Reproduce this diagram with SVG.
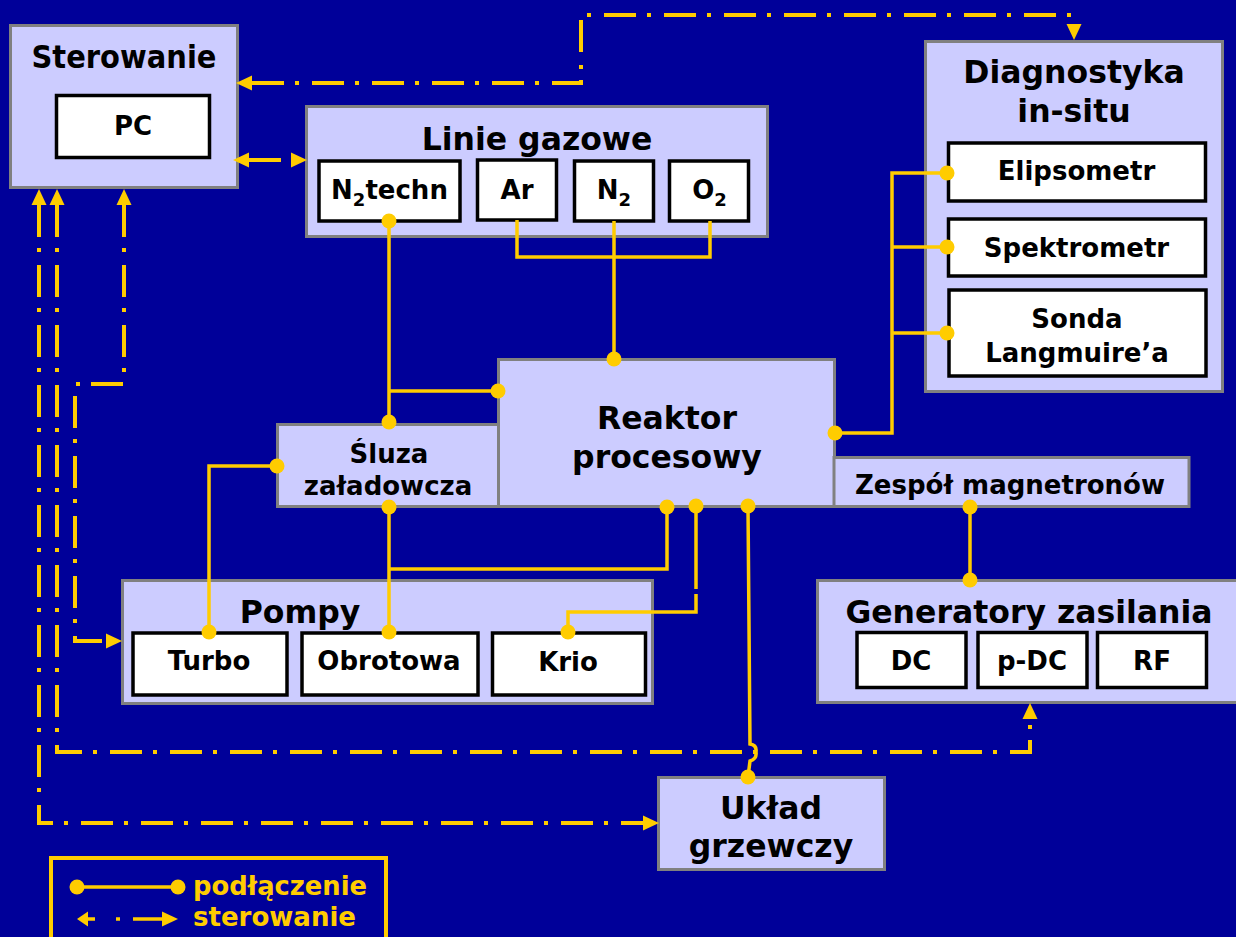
<svg xmlns="http://www.w3.org/2000/svg" width="1236" height="937" viewBox="0 0 1236 937">
<defs>
<marker id="ah" viewBox="0 -8 16 16" refX="0" refY="0" markerWidth="16" markerHeight="16" markerUnits="userSpaceOnUse" orient="auto-start-reverse"><path d="M0,-7.5 L16,0 L0,7.5 z" fill="#ffcc00"/></marker>
</defs>
<style>
.bg{fill:#000099}
.box{fill:#ccccff;stroke:#808080;stroke-width:3}
.in{fill:#ffffff;stroke:#000000;stroke-width:3.5}
.t{font-family:"DejaVu Sans","Liberation Sans",sans-serif;font-weight:bold;fill:#000;text-anchor:middle}
.tl{font-size:31.5px}
.ts{font-size:26px}
.sub{font-size:18px}
.con{fill:none;stroke:#ffcc00;stroke-width:3.5}
.ctl{fill:none;stroke:#ffcc00;stroke-width:4;stroke-dasharray:32 11 4 13;marker-start:url(#ah);marker-end:url(#ah)}
.dot{fill:#ffcc00}
.leg{font-family:"DejaVu Sans","Liberation Sans",sans-serif;font-weight:bold;font-size:26px;fill:#ffcc00}
</style>
<rect class="bg" x="0" y="0" width="1236" height="937"/>

<g id="sterowanie">
<rect class="box" x="10.5" y="25.5" width="227" height="162"/>
<text class="t tl" x="124" y="68" textLength="185" lengthAdjust="spacingAndGlyphs">Sterowanie</text>
<g id="pc"><rect class="in" x="56.5" y="95.5" width="153" height="62"/>
<text class="t ts" x="133" y="135">PC</text></g>
</g>

<g id="linie-gazowe">
<rect class="box" x="306.5" y="106.5" width="461" height="130"/>
<text class="t tl" x="537" y="150">Linie gazowe</text>
<g id="n2techn"><rect class="in" x="319" y="161" width="141" height="60"/>
<text class="t ts" x="389.5" y="199">N<tspan class="sub" dy="7">2</tspan><tspan dy="-7">techn</tspan></text></g>
<g id="ar"><rect class="in" x="477.5" y="160" width="79" height="60"/>
<text class="t ts" x="517" y="199">Ar</text></g>
<g id="n2"><rect class="in" x="574.5" y="161" width="79" height="60"/>
<text class="t ts" x="614" y="199">N<tspan class="sub" dy="7">2</tspan></text></g>
<g id="o2"><rect class="in" x="669.5" y="161" width="79" height="60"/>
<text class="t ts" x="709.5" y="199">O<tspan class="sub" dy="7">2</tspan></text></g>
</g>

<g id="diagnostyka">
<rect class="box" x="925.5" y="41.5" width="297" height="350"/>
<text class="t tl" x="1074" y="83">Diagnostyka</text>
<text class="t tl" x="1074" y="122">in-situ</text>
<g id="elipsometr"><rect class="in" x="948.5" y="143" width="257" height="58"/>
<text class="t ts" x="1076.5" y="180">Elipsometr</text></g>
<g id="spektrometr"><rect class="in" x="948.5" y="219" width="257" height="57"/>
<text class="t ts" x="1076.5" y="257">Spektrometr</text></g>
<g id="sonda"><rect class="in" x="949" y="290" width="257" height="86"/>
<text class="t ts" x="1077" y="328">Sonda</text>
<text class="t ts" x="1077" y="362">Langmuire’a</text></g>
</g>

<g id="sluza">
<rect class="box" x="277.5" y="424.5" width="221" height="82"/>
<text class="t ts" x="389" y="463">Śluza</text>
<text class="t ts" x="388" y="495">załadowcza</text>
</g>

<g id="reaktor">
<rect class="box" x="498.5" y="359.5" width="336" height="147"/>
<text class="t tl" x="667" y="429">Reaktor</text>
<text class="t tl" x="667" y="468">procesowy</text>
</g>

<g id="zespol">
<rect class="box" x="834" y="457.5" width="355" height="49"/>
<text class="t ts" x="1010" y="494">Zespół magnetronów</text>
</g>

<g id="pompy">
<rect class="box" x="122.5" y="580.5" width="530" height="123"/>
<text class="t tl" x="300" y="623">Pompy</text>
<g id="turbo"><rect class="in" x="133" y="633" width="154" height="62"/>
<text class="t ts" x="209" y="670">Turbo</text></g>
<g id="obrotowa"><rect class="in" x="302" y="633" width="176" height="62"/>
<text class="t ts" x="389" y="670">Obrotowa</text></g>
<g id="krio"><rect class="in" x="492.5" y="633" width="153" height="62"/>
<text class="t ts" x="568" y="671">Krio</text></g>
</g>

<g id="generatory">
<rect class="box" x="817.5" y="580.5" width="422" height="122"/>
<text class="t tl" x="1029" y="623">Generatory zasilania</text>
<g id="dc"><rect class="in" x="857" y="632.5" width="109" height="55"/>
<text class="t ts" x="911" y="670">DC</text></g>
<g id="pdc"><rect class="in" x="978" y="632.5" width="109" height="55"/>
<text class="t ts" x="1032" y="670">p-DC</text></g>
<g id="rf"><rect class="in" x="1097.5" y="632.5" width="109" height="55"/>
<text class="t ts" x="1152" y="670">RF</text></g>
</g>

<g id="uklad">
<rect class="box" x="658.5" y="777.5" width="226" height="92"/>
<text class="t tl" x="771" y="819">Układ</text>
<text class="t tl" x="771" y="857">grzewczy</text>
</g>

<g id="connectors">
<path class="con" d="M389,221 V422 M389,391 H498"/>
<path class="con" d="M517,220 V257 H710 V221 M614,221 V359"/>
<path class="con" d="M835,433 H892 V173 H947 M892,247 H947 M892,333 H947"/>
<path class="con" d="M277,466 H209 V632"/>
<path class="con" d="M389,507 V632 M389,569 H667 V507"/>
<path class="con" d="M696,507 V589 M696,594 V612 H568 V632"/>
<path class="con" d="M748,507 L750,744 Q757,745 756,752 Q757,759 750,761 L748,777"/>
<path class="con" d="M970,507 V580"/>

<path class="ctl" d="M252,83 H581 V15 H1074 V24"/>
<path class="ctl" d="M249,160 H291"/>
<path class="ctl" d="M39,205 V823 H643"/>
<path class="ctl" d="M57,205 V752 H1030 V719"/>
<path class="ctl" d="M124,205 V384 H75 V641 H106"/>

<g class="dot">
<circle cx="389" cy="221" r="7.5"/>
<circle cx="389" cy="422" r="7.5"/>
<circle cx="498" cy="391" r="7.5"/>
<circle cx="614" cy="359" r="7.5"/>
<circle cx="277" cy="466" r="7.5"/>
<circle cx="389" cy="507" r="7.5"/>
<circle cx="667" cy="507" r="7.5"/>
<circle cx="696" cy="506" r="7.5"/>
<circle cx="748" cy="506" r="7.5"/>
<circle cx="835" cy="433" r="7.5"/>
<circle cx="947" cy="173" r="7.5"/>
<circle cx="947" cy="247" r="7.5"/>
<circle cx="947" cy="333" r="7.5"/>
<circle cx="970" cy="507" r="7.5"/>
<circle cx="970" cy="580" r="7.5"/>
<circle cx="209" cy="632" r="7.5"/>
<circle cx="389" cy="632" r="7.5"/>
<circle cx="568" cy="632" r="7.5"/>
<circle cx="748" cy="777" r="7.5"/>
</g>
</g>

<g id="legend">
<rect x="51" y="858" width="335" height="100" fill="none" stroke="#ffcc00" stroke-width="4"/>
<path class="con" d="M77,887 H178"/>
<circle class="dot" cx="77" cy="887" r="7.5"/>
<circle class="dot" cx="178" cy="887" r="7.5"/>
<text class="leg" x="193" y="895" textLength="174" lengthAdjust="spacingAndGlyphs">podłączenie</text>
<polygon class="dot" points="77,919 88,911.5 88,926.5"/>
<path class="con" d="M88,919 H95 M116,919 H120 M133,919 H163" stroke-width="4"/>
<polygon class="dot" points="162,911.5 178,919 162,926.5"/>
<text class="leg" x="193" y="926" textLength="163" lengthAdjust="spacingAndGlyphs">sterowanie</text>
</g>
</svg>
